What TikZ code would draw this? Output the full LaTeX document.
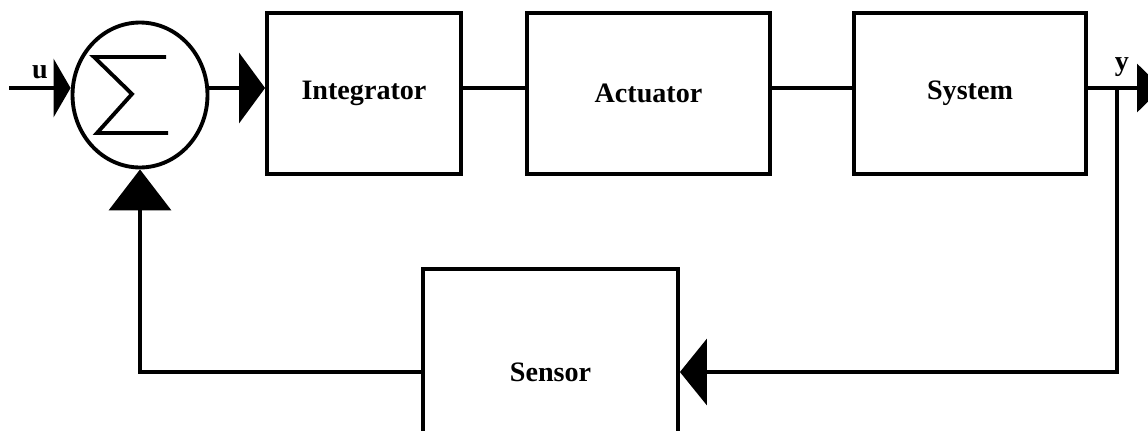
\documentclass[tikz,border=0pt]{standalone}
\usepackage{fontspec}
\setmainfont{Liberation Serif}
\usetikzlibrary{calc}
\usetikzlibrary{positioning}
\usetikzlibrary{arrows.meta}
\usetikzlibrary{shapes.geometric}

\begin{document}
\begin{tikzpicture}[x=0.02cm, y=-0.02cm, line width=2.2pt,
  font=\fontsize{16}{19}\selectfont\bfseries,
  block/.style={draw, rectangle, inner sep=0pt},
  summer/.style={draw, ellipse, inner sep=0pt, minimum width=2.7cm, minimum height=2.9cm}]
\useasboundingbox (0,0) rectangle (1148,430);
\node[summer] (sum) at (140,95) {};
\node[block, minimum width=3.88cm, minimum height=3.22cm] (integ) at (364,93.5) {Integrator};
\node[block, minimum width=4.86cm, minimum height=3.22cm] (act) at (648.5,93.5) {Actuator};
\node[block, minimum width=4.64cm, minimum height=3.22cm] (sys) at (970,93.5) {System};
\node[block, minimum width=5.1cm, minimum height=4.12cm] (sens) at (550.5,372) {Sensor};
\coordinate (uin) at (9,88);
\coordinate (tap) at (1117,88);
\coordinate (yout) at (1162,88);
\node (u) at (40,72) {u};
\node (y) at (1122,67) {y};
% sigma sign
\draw ($(sum)+(26,-38)$) -- ($(sum)+(-46,-38)$) -- ($(sum)+(-8,-1)$)
  -- ($(sum)+(-43,38)$) -- ($(sum)+(28,38)$);
% forward path
\draw[-{Triangle[length=0.34cm, width=1.16cm]}] (uin) -- (uin -| sum.west);
\draw[-{Triangle[length=0.52cm, width=1.4cm]}] (sum.east |- uin) -- (integ.west |- uin);
\draw (integ.east |- uin) -- (act.west |- uin);
\draw (act.east |- uin) -- (sys.west |- uin);
\draw[-{Triangle[length=0.5cm, width=0.96cm]}] (sys.east |- uin) -- (yout);
% feedback path
\draw[-{Triangle[length=0.54cm, width=1.32cm]}] (tap) |- (sens.east);
\draw[-{Triangle[length=0.82cm, width=1.24cm]}] (sens.west) -| (sum.south);
\end{tikzpicture}
\end{document}
